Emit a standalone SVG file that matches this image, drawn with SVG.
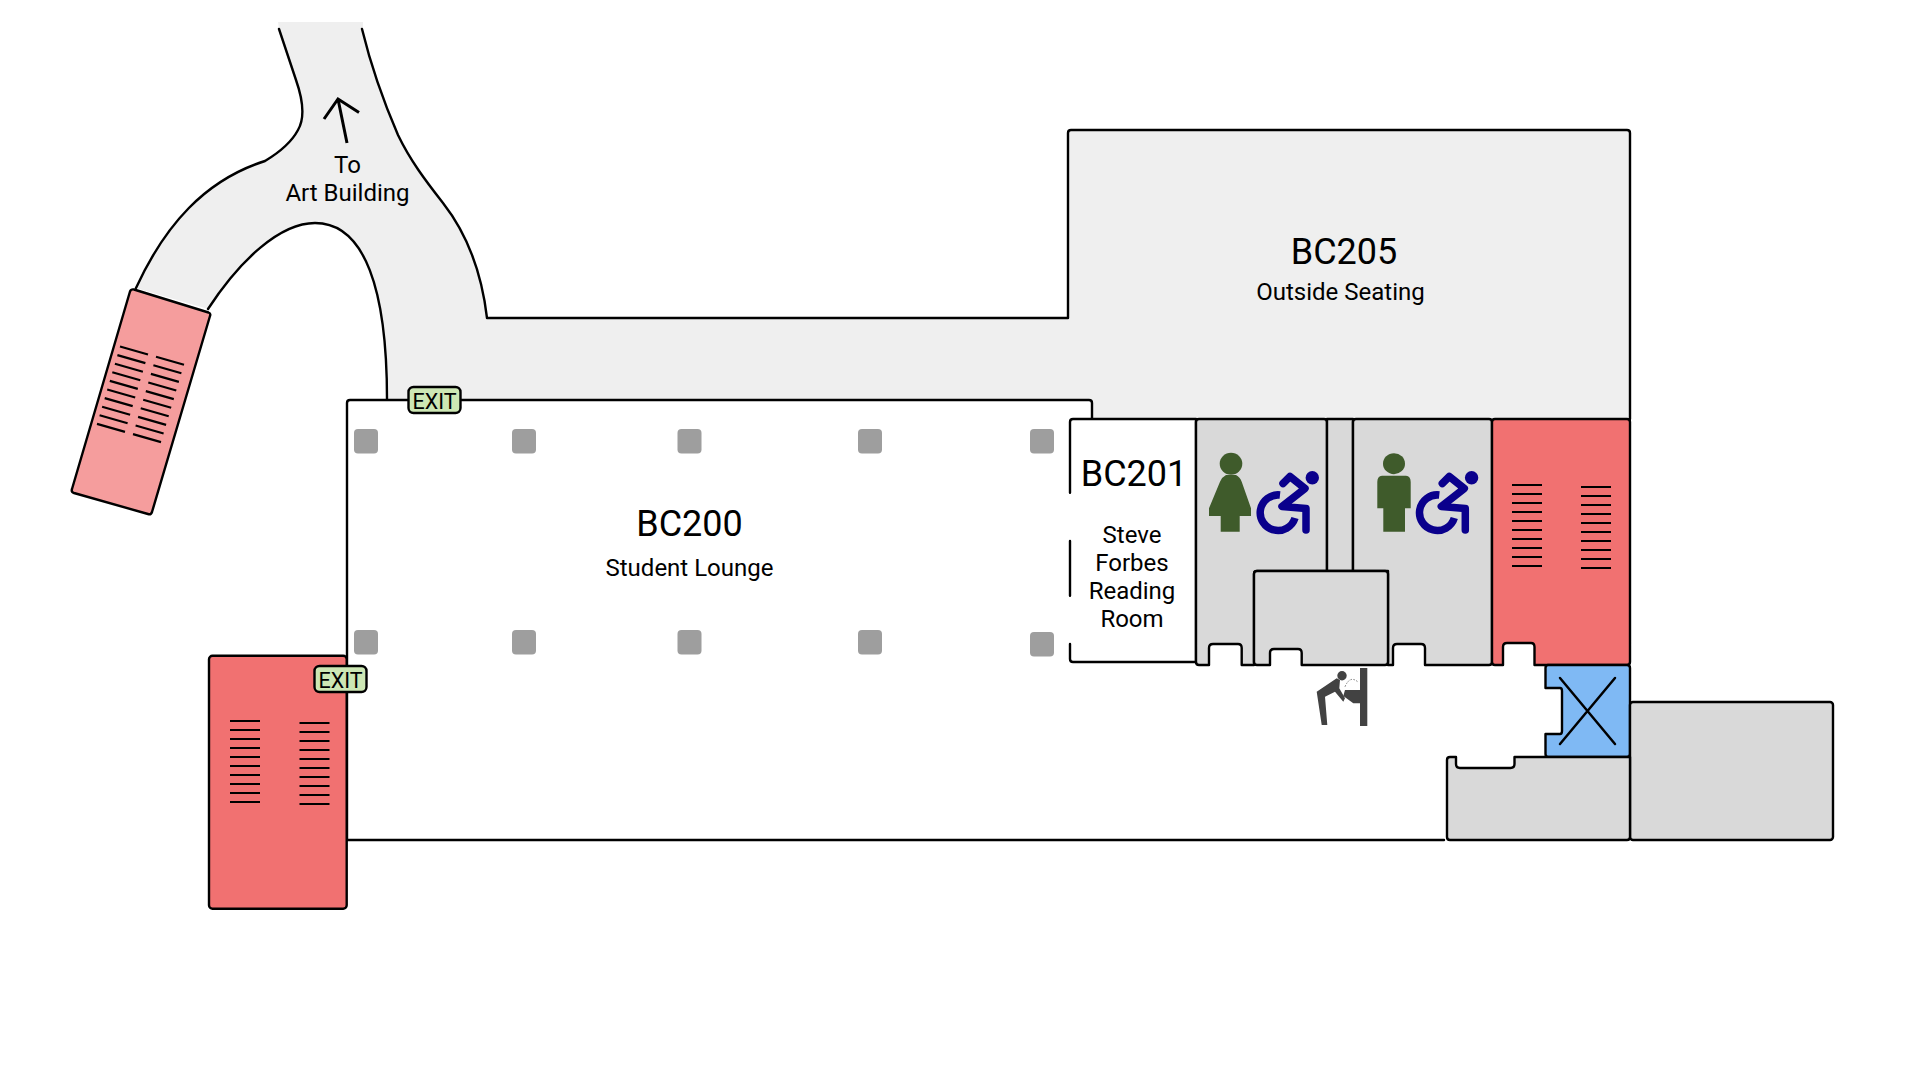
<svg xmlns="http://www.w3.org/2000/svg" width="1921" height="1081" viewBox="0 0 1921 1081">
<style>
.o{stroke:#000;stroke-width:2.400;stroke-linejoin:round;stroke-linecap:round}
.line{fill:none;stroke:#000;stroke-width:2.400;stroke-linecap:round;stroke-linejoin:round}
.g{fill:#d9d9d9}.r{fill:#f17171}
.col{fill:#9e9e9e}
.tread{stroke:#000;stroke-width:2.200;fill:none}
.exit{fill:#cde7b4;stroke:#000;stroke-width:2.400}
text{font-family:Roboto,"Liberation Sans",sans-serif;fill:#000;text-anchor:middle}
.t{font-size:24px}.h{font-size:36px}.e{font-size:21.500px}
.p{fill:#3f5b2b}.wc{fill:none;stroke:#0a008c;stroke-width:7.500;stroke-linejoin:round;stroke-linecap:round}
</style>
<defs>
<g id="chair">
<circle cx="1312.300" cy="477.700" r="6.700" fill="#0a008c"/>
<path class="wc" d="M1283,483.500L1290,476.500L1305,488.500L1282,506.500L1306,508.500V530"/>
<path fill="none" stroke="#0a008c" stroke-width="7.500" d="M1280,495A17.800,17.800 0 1 0 1295,518"/>
</g>
<g id="treads10h">
<path class="tread" d="M0,0h30M0,9h30M0,18h30M0,27h30M0,36h30M0,45h30M0,54h30M0,63h30M0,72h30M0,81h30"/>
</g>
<g id="treads10t">
<path class="tread" d="M0,0l28,8M-2.600,8.600l28,8M-5.100,17.200l28,8M-7.700,25.800l28,8M-10.200,34.400l28,8M-12.800,43l28,8M-15.300,51.600l28,8M-17.900,60.200l28,8M-20.400,68.800l28,8M-23,77.400l28,8"/>
</g>
</defs>

<g id="walkway">
<path fill="#efefef" d="M278,22H363V29C372,70 385,105 398,135C410,160 425,180 443,203C468,235 482,275 487,318H1068V130H1630V419H1092V400H387C387,290 365,223 315,223C280,223 240,260 208,309L136,288C165,225 205,180 265,161C275,155 290,145 298,130C305,118 303,100 296,80L279,29Z"/>
<path class="line" d="M279,29L296,80C303,100 305,118 298,130C290,145 275,155 265,161C205,180 165,225 136,288"/>
<path class="line" d="M208,309C240,260 280,223 315,223C365,223 387,290 387,399"/>
<path class="line" d="M362,29C372,70 385,105 398,135C410,160 425,180 443,203C468,235 482,275 487,318H1068V133Q1068,130 1071,130H1627Q1630,130 1630,133V419"/>
<path fill="none" stroke="#000" stroke-width="3" d="M347,143L338,99M324,119L338,99L359,112.600"/>
<text class="t" x="347.500" y="172.500">To</text>
<text class="t" x="347.500" y="200.500">Art Building</text>
</g>

<g id="stair-tilted">
<path class="o" fill="#f59d9d" d="M134,289.500L208.500,312.500Q211,313.500 210,316L152,512Q151,515 148,514L74,493Q71,492 72,489L130,291.500Q131,289 134,289.500Z"/>
<use href="#treads10t" x="120" y="346.500"/>
<use href="#treads10t" x="156" y="356.700"/>
</g>

<g id="BC200">
<path class="line" d="M347,840V403Q347,400 350,400H1089Q1092,400 1092,403V419"/>
<path class="line" d="M347,840H1444"/>
<rect class="col" x="354" y="429" width="24" height="24.500" rx="4"/><rect class="col" x="512" y="429" width="24" height="24.500" rx="4"/><rect class="col" x="677.500" y="429" width="24" height="24.500" rx="4"/><rect class="col" x="858" y="429" width="24" height="24.500" rx="4"/><rect class="col" x="1030" y="429" width="24" height="24.500" rx="4"/>
<rect class="col" x="354" y="630" width="24" height="24.500" rx="4"/><rect class="col" x="512" y="630" width="24" height="24.500" rx="4"/><rect class="col" x="677.500" y="630" width="24" height="24.500" rx="4"/><rect class="col" x="858" y="630" width="24" height="24.500" rx="4"/><rect class="col" x="1030" y="632" width="24" height="24.500" rx="4"/>
<text class="h" x="689.500" y="536">BC200</text>
<text class="t" x="689.500" y="576">Student Lounge</text>
</g>

<g id="BC205">
<text class="h" x="1344" y="264">BC205</text>
<text class="t" x="1340.500" y="300">Outside Seating</text>
</g>

<g id="BC201">
<path fill="#fff" d="M1070,419H1196V662H1070Z"/>
<path class="line" d="M1070,492.700V422Q1070,419 1073,419H1196V662H1073Q1070,662 1070,659V644M1070,541V595.700"/>
<text class="h" x="1134" y="486">BC201</text>
<text class="t" x="1132" y="543">Steve</text>
<text class="t" x="1132" y="571">Forbes</text>
<text class="t" x="1132" y="599">Reading</text>
<text class="t" x="1132" y="627">Room</text>
</g>

<g id="restroom-women">
<path class="o g" d="M1199,419H1324Q1327,419 1327,422V571H1257Q1254,571 1254,574V665H1241.700V648Q1241.700,644 1238,644H1213Q1209,644 1209,648V665H1199Q1196,665 1196,662V422Q1196,419 1199,419Z"/>
<ellipse class="p" cx="1231" cy="463.700" rx="11.300" ry="11"/>
<path class="p" d="M1226,475H1236Q1240,477 1241.700,481.700L1251,508.300V516H1239.700V531.700H1220.700V516H1209V508.300L1220,481.700Q1222,477 1226,475Z"/>
<use href="#chair"/>
</g>

<g id="chase">
<path class="o g" d="M1327,419H1353V571H1327Z"/>
</g>

<g id="restroom-men">
<path class="o g" d="M1356,419H1489Q1492,419 1492,422V662Q1492,665 1489,665H1425V648Q1425,644 1421,644H1397Q1393,644 1393,648V665H1388V571H1353V422Q1353,419 1356,419Z"/>
<ellipse class="p" cx="1394" cy="463.700" rx="11" ry="10.500"/>
<path class="p" d="M1382,475.700H1406Q1410.700,476 1410.700,482V508.300H1405V531.700H1383.300V508.300H1377.300V482Q1377.300,476 1382,475.700Z"/>
<use href="#chair" x="159.300"/>
</g>

<g id="closet">
<path class="o g" d="M1257,571H1385Q1388,571 1388,574V662Q1388,665 1385,665H1301.700V653Q1301.700,649 1298,649H1274Q1270,649 1270,653V665H1257Q1254,665 1254,662V574Q1254,571 1257,571Z"/>
</g>

<g id="fountain">
<rect x="1360" y="668" width="7.300" height="58" fill="#424242"/>
<circle cx="1342" cy="675.700" r="4.700" fill="#424242"/>
<path fill="#424242" d="M1336.700,678.300L1316.700,691.700L1321.700,725H1327.300L1325,696.700L1335,691.700L1343.300,701.700L1345,698.300L1339.300,688.300L1340,680Z"/>
<path fill="#424242" d="M1345,690H1360V703.300H1353.300L1343.300,696Z"/>
<path fill="none" stroke="#777" stroke-width="1" stroke-dasharray="1.500 1.500" d="M1345,686.700Q1350,675 1358,682"/>
</g>

<g id="stair-east">
<path class="o r" d="M1495,419H1627Q1630,419 1630,422V662Q1630,665 1627,665H1534.500V647Q1534.500,643 1531,643H1507Q1503,643 1503,647V665H1495Q1492,665 1492,662V422Q1492,419 1495,419Z"/>
<use href="#treads10h" x="1512" y="485"/>
<use href="#treads10h" x="1581" y="487"/>
</g>

<g id="elevator">
<path class="o" fill="#7fb9f4" d="M1548,665H1627Q1630,665 1630,668V754Q1630,757 1627,757H1548Q1545.500,757 1545.500,754V734H1560Q1562,734 1562,731V691Q1562,688 1560,688H1545.500V668Q1545.500,665 1548,665Z"/>
<path fill="none" stroke="#000" stroke-width="2.500" stroke-linecap="round" d="M1560,678L1615,744M1615,678L1560,744"/>
</g>

<g id="storage-east">
<rect class="o g" x="1630" y="702" width="203" height="138" rx="3"/>
</g>

<g id="storage-south">
<path class="o g" d="M1450,757H1456V764Q1456,768 1460,768H1510.500Q1514.500,768 1514.500,764V757H1630V837Q1630,840 1627,840H1450Q1447,840 1447,837V760Q1447,757 1450,757Z"/>
</g>

<g id="stair-west">
<rect class="o r" x="209" y="655.700" width="137.700" height="253" rx="3.500"/>
<use href="#treads10h" x="230" y="721"/>
<use href="#treads10h" x="299.500" y="723"/>
</g>

<g id="exits">
<rect class="exit" x="408.500" y="387" width="52" height="26" rx="5"/>
<text class="e" x="434.500" y="408.500">EXIT</text>
<rect class="exit" x="314.500" y="666" width="52" height="26" rx="5"/>
<text class="e" x="340.500" y="687.500">EXIT</text>
</g>
</svg>
